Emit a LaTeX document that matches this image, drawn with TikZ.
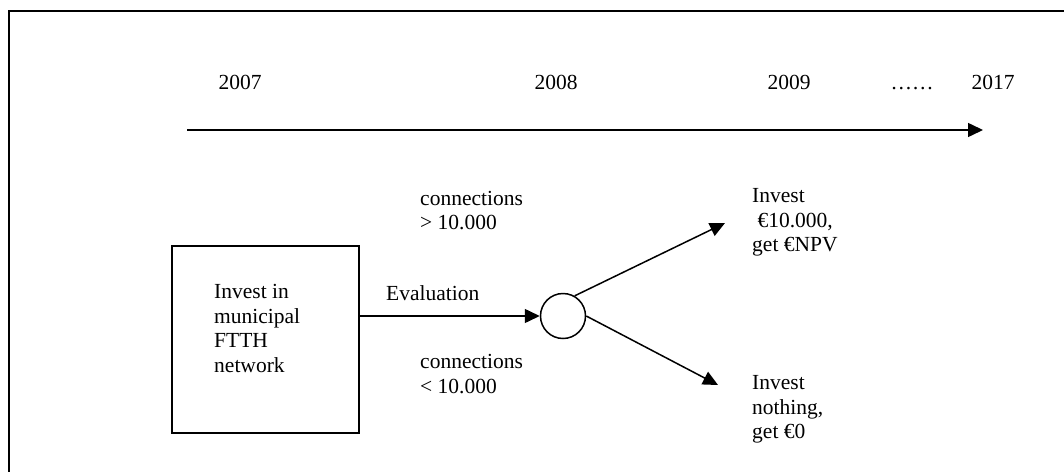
\documentclass[tikz,border=0pt]{standalone}
\usepackage{fontspec}
\setmainfont{Liberation Serif}
\usepackage{tikz}
\usetikzlibrary{arrows.meta}

\tikzset{
  lbl/.style={anchor=west, align=left, inner sep=0pt, font=\fontsize{21.5}{24.4}\selectfont},
  yr/.style={anchor=base, inner sep=0pt, font=\fontsize{21.5}{24.4}\selectfont},
  branch/.style={line width=1.5pt, -{Triangle[length=15pt,width=14pt]}}
}

\begin{document}
\begin{tikzpicture}[x=1pt,y=-1pt]
\useasboundingbox (0,0) rectangle (1064,471);
\draw[line width=2pt] (9,475) -- (9,11) -- (1070,11);
\node[yr] (y2007) at (240,89) {2007};
\node[yr] (y2008) at (556,89) {2008};
\node[yr] (y2009) at (789,89) {2009};
\node[yr] (dots) at (912,89) {……};
\node[yr] (y2017) at (993,89) {2017};
\coordinate (tlStart) at (187,130);
\coordinate (tlEnd) at (983,130);
\draw[branch] (tlStart) -- (tlEnd);
\node[draw, line width=1.7pt, minimum width=187pt, minimum height=187pt, inner sep=0pt] (invest) at (265.5,339.5) {};
\node[lbl] (investTxt) at (214,328.5) {Invest in\\municipal\\FTTH\\network};
\node[draw, circle, line width=1.5pt, minimum size=45pt, inner sep=0pt] (chance) at (563,316) {};
\draw[branch] (chance -| invest.east) -- (chance);
\node[lbl] (evalTxt) at (386,293) {Evaluation};
\node[lbl] (condUp) at (420,210.5) {connections\\> 10.000};
\node[lbl] (condLow) at (420,374) {connections\\< 10.000};
\coordinate (upTip) at (725,223);
\coordinate (lowTip) at (718,385);
\draw[branch] (chance.60) -- (upTip);
\draw[branch] (chance.east) -- (lowTip);
\node[lbl] (optInvest) at (752,222.5) {Invest\\ \ €10.000,\\get €NPV};
\node[lbl] (optNothing) at (752,409.5) {Invest\\nothing,\\get €0};
\end{tikzpicture}
\end{document}
